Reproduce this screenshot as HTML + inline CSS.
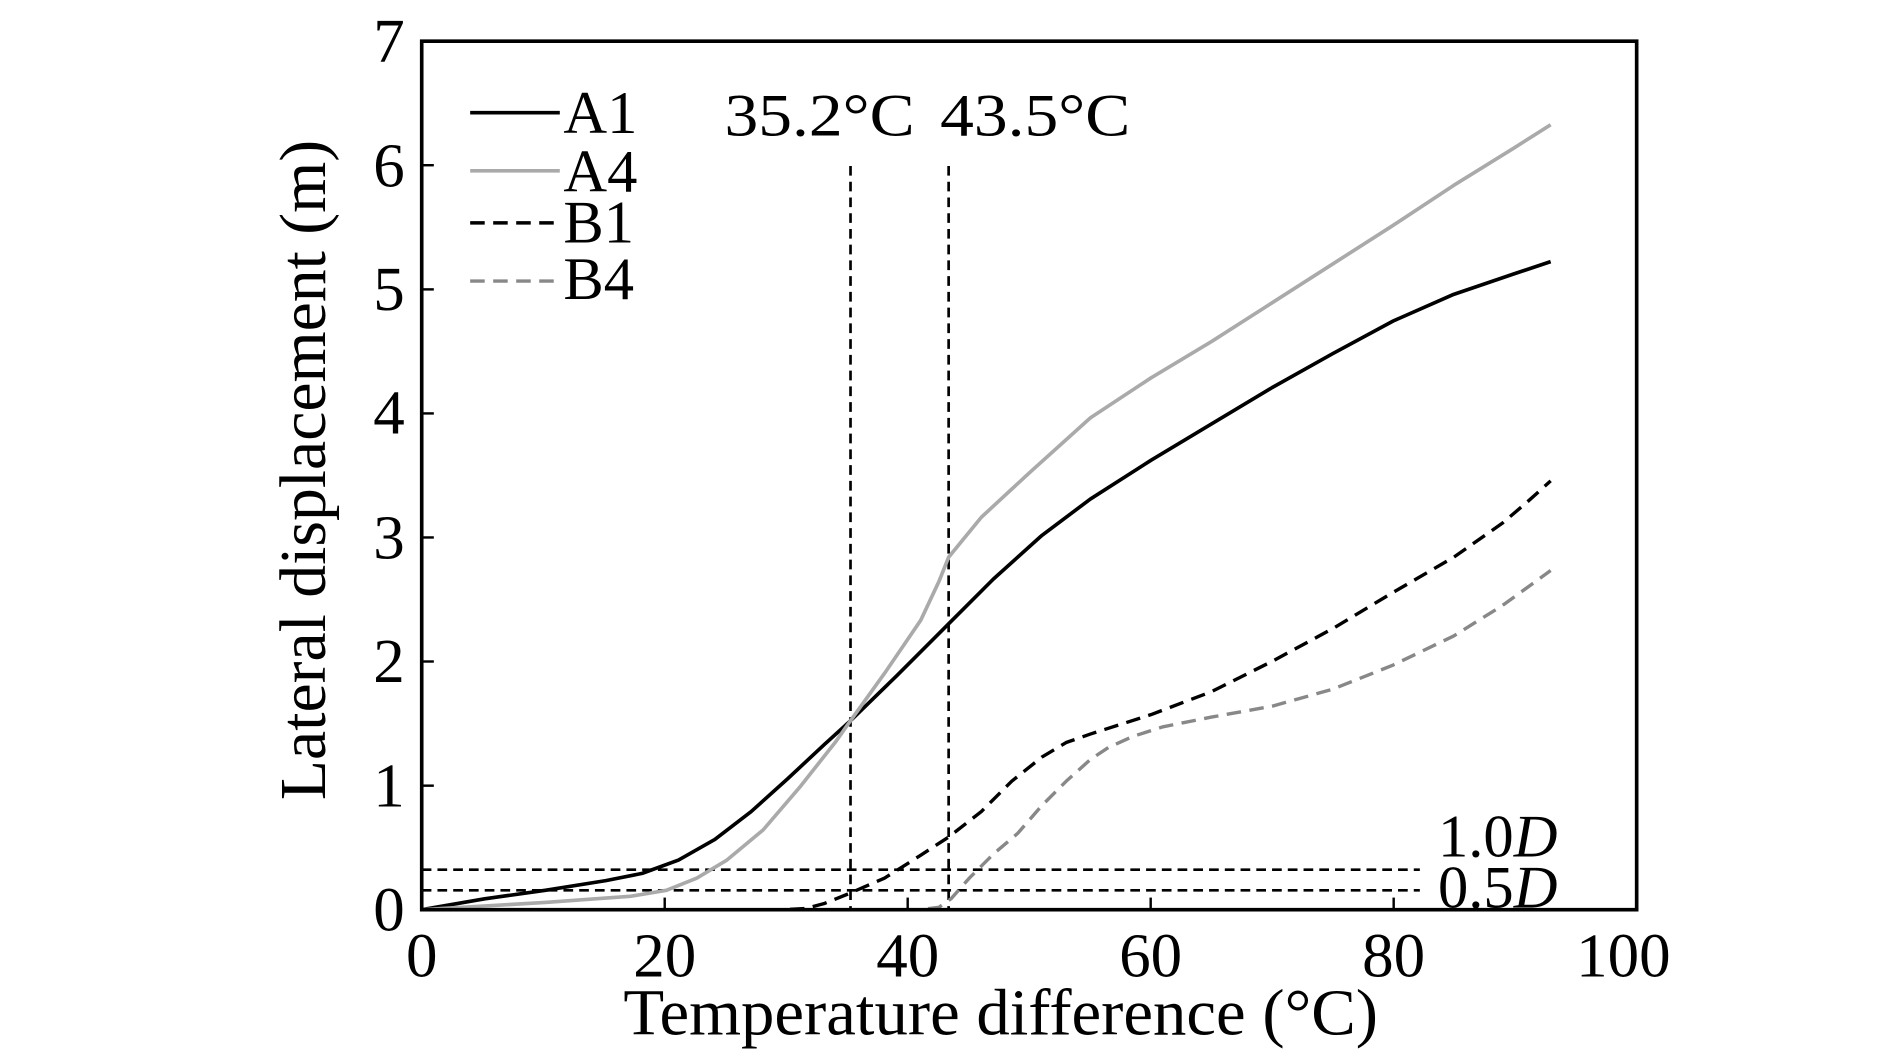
<!DOCTYPE html>
<html><head><meta charset="utf-8"><style>
html,body{margin:0;padding:0;background:#fff;}
svg{display:block;}
text{font-family:"Liberation Serif","Times New Roman",serif;fill:#000;}
</style></head><body>
<svg width="1890" height="1049" viewBox="0 0 1560 866" xmlns="http://www.w3.org/2000/svg">
<rect width="1560" height="866" fill="#fff"/>
<g stroke="#000" stroke-width="2">
<line x1="548.6" y1="751" x2="548.6" y2="741"/><line x1="749.2" y1="751" x2="749.2" y2="741"/><line x1="949.8" y1="751" x2="949.8" y2="741"/><line x1="1150.4" y1="751" x2="1150.4" y2="741"/>
<line x1="348" y1="648.6" x2="358" y2="648.6"/><line x1="348" y1="546.1" x2="358" y2="546.1"/><line x1="348" y1="443.7" x2="358" y2="443.7"/><line x1="348" y1="341.3" x2="358" y2="341.3"/><line x1="348" y1="238.9" x2="358" y2="238.9"/><line x1="348" y1="136.4" x2="358" y2="136.4"/>
</g>
<g stroke="#000" stroke-width="2.2" stroke-dasharray="8,5" fill="none">
<line x1="348" y1="718" x2="1172" y2="718"/>
<line x1="348" y1="735" x2="1172" y2="735"/>
<line x1="702" y1="137" x2="702" y2="751"/>
<line x1="783" y1="137" x2="783" y2="751"/>
</g>
<g fill="none" stroke-linejoin="round" stroke-linecap="butt">
<polyline points="348,751 400,742 450,735 500,727 530,721 560,710 590,693 620,670 650,643 680,615 702,595 740,558 783,515 820,478 860,442 900,412 950,380 1000,350 1050,320 1100,292 1150,265 1200,243 1250,226 1280,216" stroke="#000" stroke-width="3"/>
<polyline points="348,751 450,745 520,740 550,735 575,725 600,710 630,685 660,650 690,612 702,595 730,556 760,512 775,480 783,460 810,427 850,390 900,345 950,312 1000,282 1050,250 1100,218 1150,186 1200,153 1250,122 1280,103" stroke="#aaa" stroke-width="3"/>
<polyline points="348,751 645,751 665,750 680,746 700,738 730,725 760,706 783,691 810,670 835,645 860,625 880,613 900,606 950,590 1000,571 1050,546 1100,519 1150,489 1200,460 1240,432 1260,415 1280,397" stroke="#000" stroke-width="2.8" stroke-dasharray="12,7"/>
<polyline points="348,751 760,751 775,749 785,742 800,725 820,705 840,688 860,665 880,645 900,627 915,617 935,608 960,600 1000,592 1050,583 1100,569 1150,549 1200,525 1240,500 1280,471" stroke="#888" stroke-width="2.8" stroke-dasharray="12,7"/>
</g>
<rect x="348" y="34" width="1003" height="717" fill="none" stroke="#000" stroke-width="3"/>
<line x1="388" y1="93" x2="462" y2="93" stroke="#000" stroke-width="3"/>
<line x1="388" y1="141" x2="462" y2="141" stroke="#aaa" stroke-width="3"/>
<line x1="388" y1="184" x2="462" y2="184" stroke="#000" stroke-width="2.8" stroke-dasharray="12,7"/>
<line x1="388" y1="232" x2="462" y2="232" stroke="#888" stroke-width="2.8" stroke-dasharray="12,7"/>
<g font-size="50">
<text x="465" y="110">A1</text>
<text x="465" y="158">A4</text>
<text x="465" y="200">B1</text>
<text x="465" y="247">B4</text>
<text x="598" y="112" textLength="157" lengthAdjust="spacingAndGlyphs">35.2°C</text>
<text x="776" y="112" textLength="157" lengthAdjust="spacingAndGlyphs">43.5°C</text>
<text x="1187" y="707">1.0<tspan font-style="italic">D</tspan></text>
<text x="1187" y="749">0.5<tspan font-style="italic">D</tspan></text>
</g>
<g font-size="52" text-anchor="middle">
<text x="348" y="806">0</text><text x="548.6" y="806">20</text><text x="749.2" y="806">40</text><text x="949.8" y="806">60</text><text x="1150.4" y="806">80</text><text x="1340" y="806">100</text>
</g>
<g font-size="52" text-anchor="end">
<text x="334" y="768">0</text><text x="334" y="666">1</text><text x="334" y="563">2</text><text x="334" y="461">3</text><text x="334" y="358">4</text><text x="334" y="256">5</text><text x="334" y="154">6</text><text x="334" y="51">7</text>
</g>
<text x="826" y="854" font-size="54" text-anchor="middle" textLength="623" lengthAdjust="spacingAndGlyphs">Temperature difference (°C)</text>
<text transform="translate(268,388) rotate(-90)" font-size="54" text-anchor="middle" textLength="545" lengthAdjust="spacingAndGlyphs">Lateral displacement (m)</text>
</svg>
</body></html>
